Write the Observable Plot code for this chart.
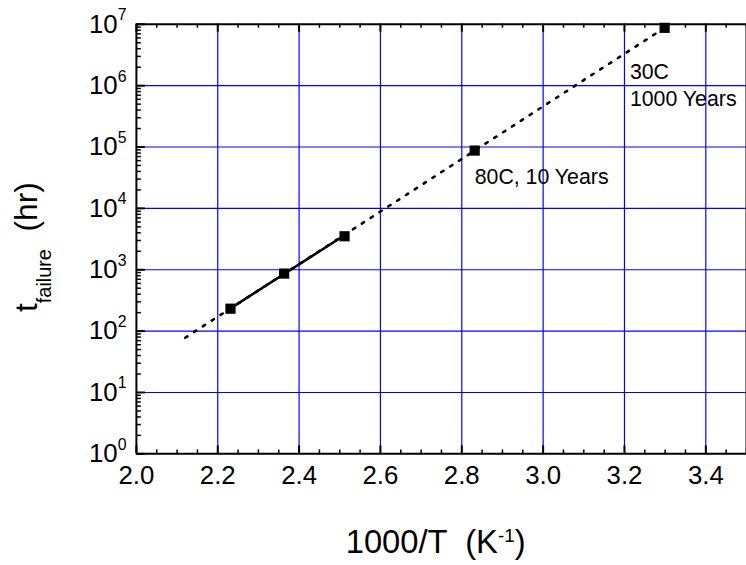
<!DOCTYPE html>
<html>
<head>
<meta charset="utf-8">
<script src="https://cdn.jsdelivr.net/npm/d3@7"></script>
<script src="https://cdn.jsdelivr.net/npm/@observablehq/plot@0.6"></script>
<style>
  html, body { margin: 0; padding: 0; background: white; }
  #wrap { width: 746px; height: 565px; overflow: hidden; }
</style>
</head>
<body>
<div id="wrap"></div>
<script>
// ---- data ----
const invT = [2.2313, 2.3632, 2.5117, 2.8317, 3.2987];      // 1000/T (K^-1)
const tFail = [232, 866, 3513, 87600, 8760000];              // hours
const extrapX = [2.12, 3.2987];                              // dotted extrapolation
const extrapY = [78, 8760000];
const measFitX = [2.2313, 2.5117];                           // solid fit
const measFitY = [235, 3650];
const noteX = [2.8317, 3.2987];
const noteY = [87600, 8760000];
const noteText = ["80C, 10 Years", "30C\n1000 Years"];
const xTicks = [2.0, 2.2, 2.4, 2.6, 2.8, 3.0, 3.2, 3.4];
const xGrid = [2.2, 2.4, 2.6, 2.8, 3.0, 3.2, 3.4];
const yTicks = [1, 10, 100, 1000, 10000, 100000, 1000000, 10000000];
const yGrid = [10, 100, 1000, 10000, 100000, 1000000];

// minor tick positions (axis decoration)
const xMinor = d3.range(0, 31).map(i => 2 + i * 0.05).filter(v => Math.abs((v - 2) / 0.2 - Math.round((v - 2) / 0.2)) > 1e-6);
const yMinor = [];
for (let e = 0; e < 7; e++) for (let m = 2; m <= 9; m++) yMinor.push(m * Math.pow(10, e));

const W = 752, H = 565, mL = 137, mR = 0, mT = 24, mB = 108;
const fw = W - mL - mR, fh = H - mT - mB;
const FONT = "'Liberation Sans', Arial, Helvetica, sans-serif";

const pts = invT.map((x, i) => ({x, y: tFail[i]}));
const extrap = extrapX.map((x, i) => ({x, y: extrapY[i]}));
const meas = measFitX.map((x, i) => ({x, y: measFitY[i]}));
const notes = noteX.map((x, i) => ({x, y: noteY[i], text: noteText[i]}));

const plot = Plot.plot({
  width: W, height: H,
  marginLeft: mL, marginRight: mR, marginTop: mT, marginBottom: mB,
  x: {domain: [2, 3.5]},
  y: {type: "log", domain: [1, 1e7]},
  style: {fontFamily: FONT, background: "white", color: "black"},
  marks: [
    Plot.ruleX(xGrid, {stroke: "#0000ff", strokeWidth: 1.2}),
    Plot.ruleY(yGrid, {stroke: "#0000ff", strokeWidth: 1.2}),
    Plot.line(extrap, {x: "x", y: "y", stroke: "black", strokeWidth: 2.6, strokeDasharray: "2.6 8"}),
    Plot.line(meas, {x: "x", y: "y", stroke: "black", strokeWidth: 2.6}),
    Plot.dot(pts, {x: "x", y: "y", symbol: "square", r: 5.8, fill: "black", stroke: "none"}),
    Plot.text(notes.slice(0, 1), {x: "x", y: "y", text: "text", textAnchor: "start", lineAnchor: "bottom", dx: 0, dy: 34, fontSize: 21.5, fill: "black"}),
    Plot.text(notes.slice(1), {x: "x", y: "y", text: "text", textAnchor: "start", lineAnchor: "top", lineHeight: 1.27, dx: -35, dy: 32, fontSize: 21.5, fill: "black"}),
    // frame
    Plot.ruleX([2, 3.5], {stroke: "black", strokeWidth: 2}),
    Plot.ruleY([1, 1e7], {stroke: "black", strokeWidth: 2}),
    // bottom ticks (inward)
    Plot.tickX(xMinor, {insetTop: fh - 4, stroke: "black", strokeWidth: 1.5}),
    Plot.tickX(xTicks, {insetTop: fh - 8, stroke: "black", strokeWidth: 2}),
    // top ticks (inward)
    Plot.tickX(xMinor, {insetBottom: fh - 4, stroke: "black", strokeWidth: 1.5}),
    Plot.tickX(xTicks, {insetBottom: fh - 8, stroke: "black", strokeWidth: 2}),
    // left ticks (inward)
    Plot.tickY(yMinor, {insetRight: fw - 5, stroke: "black", strokeWidth: 1.5}),
    Plot.tickY(yTicks, {insetRight: fw - 9, stroke: "black", strokeWidth: 2}),
    // tick labels
    Plot.axisX({ticks: xTicks, tickSize: 0, tickPadding: 12, fontSize: 26, tickFormat: d3.format(".1f"), label: null, fill: "black"}),
    Plot.axisY({ticks: yTicks, tickSize: 0, tickPadding: 10, fontSize: 26, tickFormat: d => String(Math.round(Math.log10(d))), label: null, fill: "black"}),
    // axis titles (placeholders rewritten below with sub/superscripts)
    Plot.text([0], {frameAnchor: "bottom-left", text: () => "__XLABEL__", textAnchor: "start", lineAnchor: "bottom", dx: 211, dy: 100, fontSize: 33, fill: "black"}),
    Plot.text([0], {frameAnchor: "top-left", text: () => "__YLABEL__", textAnchor: "start", lineAnchor: "bottom", rotate: -90, dx: -100, dy: 290, fontSize: 32, fill: "black"})
  ]
});

const NS = "http://www.w3.org/2000/svg";
function tspan(parent, str, attrs) {
  const t = document.createElementNS(NS, "tspan");
  for (const k in attrs) t.setAttribute(k, attrs[k]);
  t.textContent = str;
  parent.appendChild(t);
  return t;
}

// y tick labels: 10^n
plot.querySelectorAll('g[aria-label="y-axis tick label"] text').forEach(t => {
  const e = t.textContent;
  t.textContent = "10";
  tspan(t, e, {"font-size": "16px", dy: "-12.5px"});
});

plot.querySelectorAll("text").forEach(t => {
  if (t.textContent === "__XLABEL__") {
    t.textContent = "";
    t.setAttribute("xml:space", "preserve");
    t.style.whiteSpace = "pre";
    tspan(t, "1000/T  (K", {});
    tspan(t, "-1", {"font-size": "19px", dy: "-11px"});
    tspan(t, ")", {dy: "11px"});
  } else if (t.textContent === "__YLABEL__") {
    t.textContent = "";
    t.setAttribute("xml:space", "preserve");
    t.style.whiteSpace = "pre";
    tspan(t, "t", {});
    tspan(t, "failure", {"font-size": "20px", dy: "13.5px"});
    tspan(t, "  (hr)", {"font-size": "32px", dy: "-13.5px"});
  }
});

document.getElementById("wrap").appendChild(plot);
</script>
</body>
</html>
